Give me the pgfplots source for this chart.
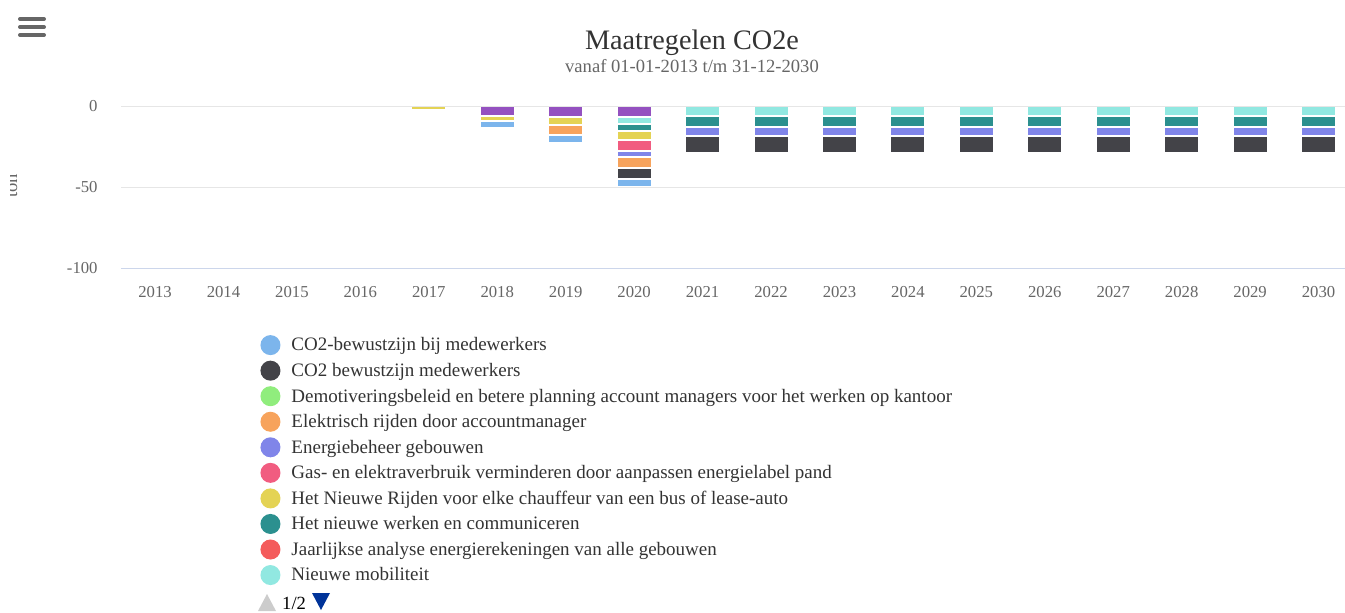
\documentclass[border=0pt]{standalone}
\usepackage{fontspec}
\setmainfont{Liberation Serif}
\usepackage{pgfplots}
\pgfplotsset{compat=1.18}
\definecolor{cA}{HTML}{7CB5EC}
\definecolor{cB}{HTML}{434348}
\definecolor{cC}{HTML}{90ED7D}
\definecolor{cD}{HTML}{F7A35C}
\definecolor{cE}{HTML}{8085E9}
\definecolor{cF}{HTML}{F15C80}
\definecolor{cG}{HTML}{E4D354}
\definecolor{cH}{HTML}{2B908F}
\definecolor{cI}{HTML}{F45B5B}
\definecolor{cJ}{HTML}{91E8E1}
\definecolor{cK}{HTML}{9451C0}
\definecolor{cGrid}{HTML}{E6E6E6}
\definecolor{cAxis}{HTML}{CCD6EB}
\definecolor{cTick}{HTML}{666666}
\definecolor{cTitle}{HTML}{333333}
\definecolor{cNavGray}{HTML}{CCCCCC}
\definecolor{cNavBlue}{HTML}{003399}
\pgfplotsset{
  mybar/.style={fill=#1, draw=white, line width=2pt,
    legend image code/.code={\fill[#1] (9pt,1.5pt) circle (9pt);}},
}
\begin{document}
\begin{tikzpicture}
\useasboundingbox (0,0) rectangle (1345pt,-613pt);
\foreach \yy in {19,27,35} {\draw[line width=4pt, line cap=round, cTick] (20pt,-\yy pt) -- (44pt,-\yy pt);}
\node[anchor=base, font=\fontsize{28.2}{34}\selectfont, text=cTitle, inner sep=0pt] at (692pt,-49.7pt) {Maatregelen CO2e};
\node[anchor=base, font=\fontsize{18.6}{22}\selectfont, text=cTick, inner sep=0pt] at (692pt,-72.5pt) {vanaf 01-01-2013 t/m 31-12-2030};
\begin{scope}
\clip (10pt,-150pt) rectangle (40pt,-230pt);
\node[rotate=90, anchor=base, font=\fontsize{18.6}{22}\selectfont, text=cTick, inner sep=0pt] at (17pt,-186pt) {ton};
\end{scope}
\begin{axis}[
  at={(120.8pt,-268pt)}, anchor=south west, scale only axis,
  width=1232pt, height=162pt,
  xmin=-0.5, xmax=17.5, ymin=-100, ymax=0,
  ybar stacked, bar width=35pt,
  xtick={0,1,2,3,4,5,6,7,8,9,10,11,12,13,14,15,16,17},
  xticklabels={2013,2014,2015,2016,2017,2018,2019,2020,2021,2022,2023,2024,2025,2026,2027,2028,2029,2030},
  ytick={-100,-50,0}, yticklabels={-100,-50,0},
  ymajorgrids, major grid style={cGrid, line width=1pt},
  axis x line=bottom, axis y line=left,
  x axis line style={cAxis, line width=1pt, -},
  y axis line style={draw=none},
  major tick length=0pt,
  tick label style={font=\fontsize{16.7}{20}\selectfont, text=cTick},
  yticklabel style={inner sep=0pt, anchor=east, xshift=-23pt},
  xticklabel style={inner sep=0pt, anchor=base, yshift=-29pt},
  axis on top,
  reverse legend,
  legend cell align=left,
  legend style={at={(0.1132,-0.413)}, anchor=north west, draw=none, fill=none,
    font=\fontsize{19}{22}\selectfont, text=cTitle, inner sep=0pt, row sep=5.55pt,
    nodes={inner sep=0pt, text height=12.7pt, text depth=4pt},
    /tikz/every odd column/.append style={column sep=11pt}},
]
% plotted nearest zero first
\addplot[mybar=cK, forget plot] coordinates {(0,0) (1,0) (2,0) (3,0) (4,0) (5,-5.9) (6,-6.6) (7,-6.6) (8,0) (9,0) (10,0) (11,0) (12,0) (13,0) (14,0) (15,0) (16,0) (17,0)};
\addplot[mybar=cJ] coordinates {(0,0) (1,0) (2,0) (3,0) (4,0) (5,0) (6,0) (7,-4.3) (8,-6.2) (9,-6.2) (10,-6.2) (11,-6.2) (12,-6.2) (13,-6.2) (14,-6.2) (15,-6.2) (16,-6.2) (17,-6.2)};
\addlegendentry{Nieuwe mobiliteit}
\addlegendimage{mybar=cI}
\addlegendentry{Jaarlijkse analyse energierekeningen van alle gebouwen}
\addplot[mybar=cH] coordinates {(0,0) (1,0) (2,0) (3,0) (4,0) (5,0) (6,0) (7,-4.8) (8,-6.9) (9,-6.9) (10,-6.9) (11,-6.9) (12,-6.9) (13,-6.9) (14,-6.9) (15,-6.9) (16,-6.9) (17,-6.9)};
\addlegendentry{Het nieuwe werken en communiceren}
\addplot[mybar=cG] coordinates {(0,0) (1,0) (2,0) (3,0) (4,-2.2) (5,-3.2) (6,-5.1) (7,-5.1) (8,0) (9,0) (10,0) (11,0) (12,0) (13,0) (14,0) (15,0) (16,0) (17,0)};
\addlegendentry{Het Nieuwe Rijden voor elke chauffeur van een bus of lease-auto}
\addplot[mybar=cF] coordinates {(0,0) (1,0) (2,0) (3,0) (4,0) (5,0) (6,0) (7,-6.8) (8,0) (9,0) (10,0) (11,0) (12,0) (13,0) (14,0) (15,0) (16,0) (17,0)};
\addlegendentry{Gas- en elektraverbruik verminderen door aanpassen energielabel pand}
\addplot[mybar=cE] coordinates {(0,0) (1,0) (2,0) (3,0) (4,0) (5,0) (6,0) (7,-3.9) (8,-5.6) (9,-5.6) (10,-5.6) (11,-5.6) (12,-5.6) (13,-5.6) (14,-5.6) (15,-5.6) (16,-5.6) (17,-5.6)};
\addlegendentry{Energiebeheer gebouwen}
\addplot[mybar=cD] coordinates {(0,0) (1,0) (2,0) (3,0) (4,0) (5,0) (6,-6.0) (7,-6.5) (8,0) (9,0) (10,0) (11,0) (12,0) (13,0) (14,0) (15,0) (16,0) (17,0)};
\addlegendentry{Elektrisch rijden door accountmanager}
\addlegendimage{mybar=cC}
\addlegendentry{Demotiveringsbeleid en betere planning account managers voor het werken op kantoor}
\addplot[mybar=cB] coordinates {(0,0) (1,0) (2,0) (3,0) (4,0) (5,0) (6,0) (7,-7.3) (8,-10) (9,-10) (10,-10) (11,-10) (12,-10) (13,-10) (14,-10) (15,-10) (16,-10) (17,-10)};
\addlegendentry{CO2 bewustzijn medewerkers}
\addplot[mybar=cA] coordinates {(0,0) (1,0) (2,0) (3,0) (4,0) (5,-4.5) (6,-5.0) (7,-4.8) (8,0) (9,0) (10,0) (11,0) (12,0) (13,0) (14,0) (15,0) (16,0) (17,0)};
\addlegendentry{CO2-bewustzijn bij medewerkers}
\end{axis}
\fill[cNavGray] (258pt,-611pt) -- (276pt,-611pt) -- (267pt,-594pt) -- cycle;
\node[anchor=base west, font=\fontsize{18.6}{22}\selectfont, text=black, inner sep=0pt] at (282pt,-609pt) {1/2};
\fill[cNavBlue] (312pt,-593pt) -- (330pt,-593pt) -- (321pt,-610pt) -- cycle;
\end{tikzpicture}
\end{document}
